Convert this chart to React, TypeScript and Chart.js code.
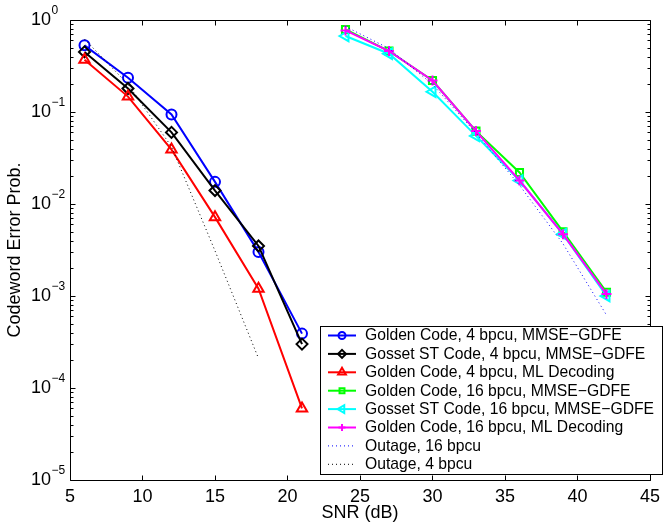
import React, { useEffect, useRef } from 'react';
import { Chart, registerables } from 'chart.js';
import { drawPoint } from 'chart.js/helpers';

Chart.register(...registerables);

const FONT = '"Liberation Sans", Arial, Helvetica, sans-serif';

// ---- data ----
const snr4 = [6, 9, 12, 15, 18, 21];
const golden4Mmse = [0.53, 0.236, 0.094, 0.0174, 0.003, 0.00039];
const gosset4Mmse = [0.45, 0.18, 0.06, 0.014, 0.0035, 0.0003];
const golden4Ml = [0.37, 0.147, 0.039, 0.0072, 0.0012, 0.00006];

const snr16 = [24, 27, 30, 33, 36, 39, 42];
const golden16Mmse = [0.79, 0.46, 0.22, 0.062, 0.022, 0.005, 0.0011];
const gosset16Mmse = [0.67, 0.43, 0.166, 0.055, 0.018, 0.0047, 0.001];
const golden16Ml = [0.77, 0.46, 0.22, 0.062, 0.018, 0.0047, 0.00105];

const outage16Snr = [24, 27, 30, 33, 36, 39, 42];
const outage16 = [0.85, 0.49, 0.2, 0.059, 0.016, 0.0037, 0.00062];
const outage4Snr = [6, 9, 12, 15, 18];
const outage4 = [0.62, 0.2, 0.042, 0.0031, 0.00021];

const xTicks = [5, 10, 15, 20, 25, 30, 35, 40, 45];
const yTickExps = [0, -1, -2, -3, -4, -5];

const seriesLabels = [
  'Golden Code, 4 bpcu, MMSE\u2212GDFE',
  'Gosset ST Code, 4 bpcu, MMSE\u2212GDFE',
  'Golden Code, 4 bpcu, ML Decoding',
  'Golden Code, 16 bpcu, MMSE\u2212GDFE',
  'Gosset ST Code, 16 bpcu, MMSE\u2212GDFE',
  'Golden Code, 16 bpcu, ML Decoding',
  'Outage, 16 bpcu',
  'Outage, 4 bpcu',
];

const pts = (xs: number[], ys: number[]) => xs.map((x, i) => ({ x, y: ys[i] }));

const LW = 2;

function solid(idx: number, color: string, xs: number[], ys: number[], style: string, radius: number, rotation = 0) {
  return {
    label: seriesLabels[idx],
    order: 20 - idx,
    data: pts(xs, ys),
    borderColor: color,
    backgroundColor: 'rgba(0,0,0,0)',
    borderWidth: LW,
    pointStyle: style,
    pointRadius: radius,
    pointRotation: rotation,
    pointBorderColor: color,
    pointBackgroundColor: 'rgba(0,0,0,0)',
    pointBorderWidth: LW,
    tension: 0,
  };
}

function dotted(idx: number, color: string, xs: number[], ys: number[]) {
  return {
    label: seriesLabels[idx],
    order: 20 - idx,
    data: pts(xs, ys),
    borderColor: color,
    backgroundColor: 'rgba(0,0,0,0)',
    borderWidth: 1,
    borderDash: [1, 3],
    pointRadius: 0,
    pointStyle: false,
    tension: 0,
  };
}

const matlabPlugin = {
  id: 'matlabDecor',
  afterDraw(chart: any) {
    const { ctx, chartArea: a, scales } = chart;
    const x = scales.x;
    const y = scales.y;
    ctx.save();
    ctx.strokeStyle = '#000';
    ctx.fillStyle = '#000';
    ctx.lineWidth = 1;
    ctx.setLineDash([]);
    const L = Math.round(a.left) + 0.5;
    const R = Math.round(a.right) + 0.5;
    const T = Math.round(a.top) + 0.5;
    const B = Math.round(a.bottom) + 0.5;
    ctx.beginPath();
    ctx.rect(L, T, R - L, B - T);
    ctx.stroke();

    // x ticks (inside, top and bottom)
    ctx.beginPath();
    for (const v of xTicks) {
      const px = Math.round(x.getPixelForValue(v)) + 0.5;
      ctx.moveTo(px, B);
      ctx.lineTo(px, B - 5);
      ctx.moveTo(px, T);
      ctx.lineTo(px, T + 5);
    }
    // y ticks (major + minor, inside, left and right)
    for (const e of yTickExps) {
      for (let m = 1; m <= 9; m++) {
        const v = m * Math.pow(10, e);
        if (v > 1.0000001) break;
        const py = Math.round(y.getPixelForValue(v)) + 0.5;
        const len = m === 1 ? 5 : 3;
        ctx.moveTo(L, py);
        ctx.lineTo(L + len, py);
        ctx.moveTo(R, py);
        ctx.lineTo(R - len, py);
      }
    }
    ctx.stroke();

    // y tick labels 10^e
    for (const e of yTickExps) {
      const py = y.getPixelForValue(Math.pow(10, e));
      const lx = a.left - 39;
      ctx.font = `18px ${FONT}`;
      ctx.textAlign = 'left';
      ctx.textBaseline = 'middle';
      ctx.fillText('10', lx, py + 0.5);
      const w = ctx.measureText('10').width;
      ctx.font = `12px ${FONT}`;
      const sup = e === 0 ? '0' : '\u2212' + Math.abs(e);
      ctx.fillText(sup, lx + w + 0.5, py - 9.5);
    }

    // legend
    const datasets = chart.data.datasets;
    const lgL = 320.5, lgT = 326.5, lgR = 662.5, lgB = 474.5;
    ctx.fillStyle = '#fff';
    ctx.fillRect(lgL, lgT, lgR - lgL, lgB - lgT);
    ctx.strokeStyle = '#000';
    ctx.lineWidth = 1;
    ctx.strokeRect(lgL, lgT, lgR - lgL, lgB - lgT);
    const rowH = 18.4;
    const row0 = 335.5;
    datasets.forEach((ds: any, i: number) => {
      const cy = row0 + i * rowH;
      ctx.save();
      ctx.strokeStyle = ds.borderColor;
      ctx.lineWidth = ds.borderWidth;
      ctx.setLineDash(ds.borderDash || []);
      ctx.beginPath();
      ctx.moveTo(328, cy);
      ctx.lineTo(356, cy);
      ctx.stroke();
      ctx.setLineDash([]);
      if (ds.pointStyle) {
        ctx.fillStyle = 'rgba(0,0,0,0)';
        ctx.strokeStyle = ds.pointBorderColor;
        ctx.lineWidth = ds.pointBorderWidth;
        drawPoint(ctx, {
          pointStyle: ds.pointStyle,
          rotation: ds.pointRotation || 0,
          radius: Math.max(ds.pointRadius - 1.5, 2.5),
          borderWidth: ds.pointBorderWidth,
        }, 342, cy);
      }
      ctx.restore();
      ctx.fillStyle = '#000';
      ctx.font = `15.7px ${FONT}`;
      ctx.textAlign = 'left';
      ctx.textBaseline = 'middle';
      ctx.fillText(ds.label, 365, cy + 0.5);
    });
    ctx.restore();
  },
};

export default function App() {
  const ref = useRef<HTMLCanvasElement | null>(null);
  useEffect(() => {
    const canvas = ref.current;
    if (!canvas) return;
    const chart = new Chart(canvas, {
      type: 'line',
      data: {
        datasets: [
          solid(0, '#0000ff', snr4, golden4Mmse, 'circle', 5),
          solid(1, '#000000', snr4, gosset4Mmse, 'rectRot', 5.5),
          solid(2, '#ff0000', snr4, golden4Ml, 'triangle', 6),
          solid(3, '#00ff00', snr16, golden16Mmse, 'rect', 5),
          solid(4, '#00ffff', snr16, gosset16Mmse, 'triangle', 6, -90),
          solid(5, '#ff00ff', snr16, golden16Ml, 'cross', 5),
          dotted(6, '#0000ff', outage16Snr, outage16),
          dotted(7, '#000000', outage4Snr, outage4),
        ] as any,
      },
      options: {
        animation: false,
        responsive: false,
        devicePixelRatio: 1,
        layout: { padding: { top: 20, right: 13, left: 0, bottom: 0 } },
        plugins: { legend: { display: false }, tooltip: { enabled: false } },
        scales: {
          x: {
            type: 'linear',
            min: 5,
            max: 45,
            grid: { display: false, drawTicks: false },
            border: { display: false },
            ticks: {
              stepSize: 5,
              color: '#000',
              padding: 6,
              maxRotation: 0,
              font: { family: FONT, size: 18 },
            },
            title: {
              display: true,
              text: 'SNR (dB)',
              color: '#000',
              font: { family: FONT, size: 18 },
              padding: { top: 2, bottom: 3 },
            },
            afterFit: (s: any) => { s.height = 47; },
          },
          y: {
            type: 'logarithmic',
            min: 1e-5,
            max: 1,
            grid: { display: false, drawTicks: false },
            border: { display: false },
            ticks: { display: false },
            title: {
              display: true,
              text: 'Codeword Error Prob.',
              color: '#000',
              font: { family: FONT, size: 18 },
              padding: { top: 4, bottom: 4 },
            },
            afterFit: (s: any) => { s.width = 70; },
          },
        },
      } as any,
      plugins: [matlabPlugin],
    });
    return () => chart.destroy();
  }, []);
  return (
    <div style={{ position: 'absolute', left: 0, top: 0, width: 666, height: 527, background: '#fff' }}>
      <canvas ref={ref} width={666} height={527} style={{ display: 'block' }} />
    </div>
  );
}
